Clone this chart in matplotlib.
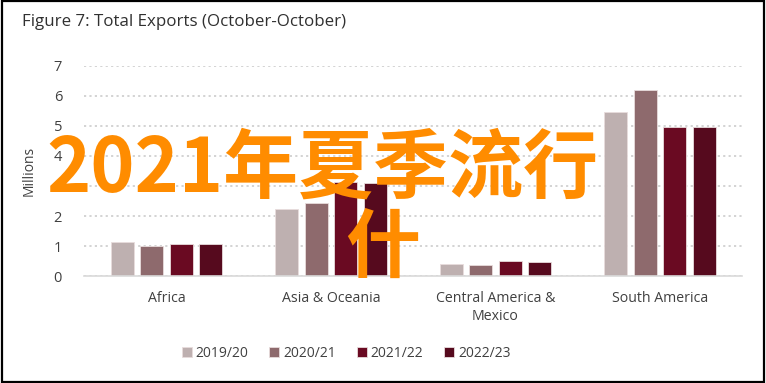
import matplotlib

matplotlib.use("Agg")
import matplotlib.pyplot as plt
import numpy as np
from matplotlib.patches import Rectangle

plt.rcParams.update(
    {
        "font.family": ["Open Sans", "DejaVu Sans"],
        "font.size": 10,
        "text.color": "#404040",
        "axes.labelcolor": "#404040",
        "xtick.color": "#404040",
        "ytick.color": "#404040",
    }
)

regions = ["Africa", "Asia & Oceania", "Central America &\nMexico", "South America"]
seasons = ["2019/20", "2020/21", "2021/22", "2022/23"]
colors = ["#BEB0B0", "#8E6A6D", "#6A0A22", "#560A1E"]

# millions
values = [
    [1.13, 2.23, 0.42, 5.47],  # 2019/20
    [1.02, 2.43, 0.37, 6.20],  # 2020/21
    [1.08, 3.13, 0.52, 4.96],  # 2021/22
    [1.06, 3.10, 0.46, 4.96],  # 2022/23
]

fig = plt.figure(figsize=(7.66, 3.83), dpi=100)
ax = fig.add_axes([0.110, 0.279, 0.859, 0.549])

x = np.arange(len(regions))
step = 0.18
width = 0.14
for i, (label, vals, c) in enumerate(zip(seasons, values, colors)):
    ax.bar(x + (i - 1.5) * step, vals, width, color=c, edgecolor="#E8DCDC",
           linewidth=0.6, label=label, zorder=3)

ax.set_xlim(-0.5, 3.5)
ax.set_ylim(0, 7)
ax.set_yticks(range(0, 8))
ax.set_xticks(x)
ax.set_xticklabels(regions, fontsize=10.2)
ax.tick_params(length=0, pad=11, axis="x")
ax.tick_params(length=0, pad=16, axis="y", labelsize=10.5)
ax.grid(axis="y", color="#D0D0D0", linestyle=(0, (1.2, 1.8)), linewidth=1.3, zorder=0)
for s in ["top", "right", "left"]:
    ax.spines[s].set_visible(False)
ax.spines["bottom"].set_color("#D9D9D9")
ax.spines["bottom"].set_linewidth(1.2)
ax.spines["bottom"].set_zorder(4)
ax.set_ylabel("Millions", fontsize=10, labelpad=12)

fig.text(0.029, 0.942, "Figure 7: Total Exports (October-October)", fontsize=12.2,
         color="#303030", va="center")

handles, labels = ax.get_legend_handles_labels()
fig.legend(handles, labels, loc="center", ncol=4, frameon=False,
           bbox_to_anchor=(0.452, 0.078), handlelength=0.7, handleheight=0.7,
           handletextpad=0.3, columnspacing=1.5, fontsize=10)

# overlaid orange caption
cjk = ["Noto Sans CJK SC", "DejaVu Sans"]
fig.text(0.421, 0.556, "2021年夏季流行", fontsize=54, color="#FF8C00",
         family=cjk, weight="bold", ha="center", va="center", zorder=10)
fig.text(0.499, 0.350, "什", fontsize=54, color="#FF8C00",
         family=cjk, weight="bold", ha="center", va="center", zorder=10)

fig.patches.append(Rectangle((0.002, 0.003), 0.996, 0.994, transform=fig.transFigure,
                             fill=False, edgecolor="black", linewidth=1.6))

fig.savefig("out.png", dpi=100)
